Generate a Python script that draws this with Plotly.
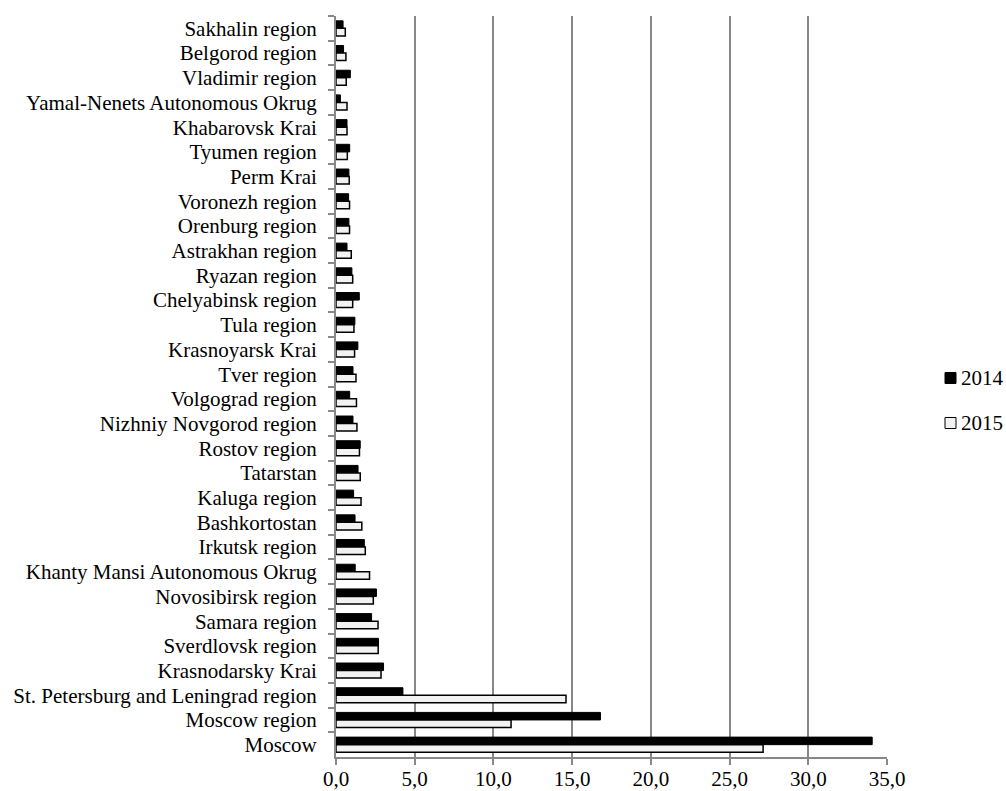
import plotly.graph_objects as go

# Regions, listed from top of the chart to bottom
regions = [
    "Sakhalin region", "Belgorod region", "Vladimir region",
    "Yamal-Nenets Autonomous Okrug", "Khabarovsk Krai", "Tyumen region",
    "Perm Krai", "Voronezh region", "Orenburg region", "Astrakhan region",
    "Ryazan region", "Chelyabinsk region", "Tula region", "Krasnoyarsk Krai",
    "Tver region", "Volgograd region", "Nizhniy Novgorod region",
    "Rostov region", "Tatarstan", "Kaluga region", "Bashkortostan",
    "Irkutsk region", "Khanty Mansi Autonomous Okrug", "Novosibirsk region",
    "Samara region", "Sverdlovsk region", "Krasnodarsky Krai",
    "St. Petersburg and Leningrad region", "Moscow region", "Moscow",
]

values_2014 = [
    0.45, 0.48, 0.91, 0.28, 0.70, 0.87, 0.82, 0.80, 0.82, 0.70,
    1.01, 1.48, 1.20, 1.39, 1.08, 0.87, 1.08, 1.54, 1.40, 1.12,
    1.21, 1.80, 1.22, 2.57, 2.26, 2.70, 3.02, 4.25, 16.80, 34.06,
]

values_2015 = [
    0.59, 0.63, 0.65, 0.70, 0.70, 0.72, 0.84, 0.86, 0.86, 0.97,
    1.06, 1.06, 1.14, 1.18, 1.27, 1.30, 1.33, 1.49, 1.54, 1.59,
    1.64, 1.86, 2.13, 2.37, 2.67, 2.68, 2.86, 14.61, 11.12, 27.13,
]

x_ticks = [0, 5, 10, 15, 20, 25, 30, 35]
series_names = ["2014", "2015"]
series_fill = ["#000000", "#f2f2f2"]

FONT = "Liberation Serif"
GRID = "#888888"
W, H = 1006, 791
ML, MR, MT, MB = 336, 119, 16, 34

fig = go.Figure()
fig.add_trace(go.Bar(
    y=regions, x=values_2014, name=series_names[0], orientation="h",
    marker=dict(color=series_fill[0], line=dict(color="#000000", width=1)),
))
fig.add_trace(go.Bar(
    y=regions, x=values_2015, name=series_names[1], orientation="h",
    marker=dict(color=series_fill[1], line=dict(color="#000000", width=1.5)),
))

fig.update_layout(
    width=W, height=H,
    margin=dict(l=ML, r=MR, t=MT, b=MB, autoexpand=False),
    paper_bgcolor="white", plot_bgcolor="white",
    barmode="group", bargap=0.39, bargroupgap=0,
    separators=", ",
    font=dict(family=FONT, size=21, color="#000000"),
    showlegend=False,
)

# Legend drawn as swatches plus labels at the right of the plot
pw, ph = W - ML - MR, H - MT - MB
def px_x(v):
    return (v - ML) / pw
def px_y(v):
    return (H - MB - v) / ph

legend_rows = [378, 423]
for name, fill, cy in zip(series_names, series_fill, legend_rows):
    fig.add_shape(
        type="rect", xref="paper", yref="paper",
        x0=px_x(945), x1=px_x(956), y0=px_y(cy + 5.5), y1=px_y(cy - 5.5),
        fillcolor=fill, line=dict(color="#000000", width=1),
    )
    fig.add_annotation(
        text=name, xref="paper", yref="paper",
        x=px_x(959), y=px_y(cy), xanchor="left", yanchor="middle",
        showarrow=False, font=dict(family=FONT, size=21, color="#000000"),
    )

fig.update_xaxes(
    range=[0, 35], tickvals=x_ticks, tickformat=".1f",
    showgrid=True, gridcolor=GRID, gridwidth=2,
    showline=True, linecolor=GRID, linewidth=2,
    ticks="outside", ticklen=6, tickcolor=GRID, tickwidth=2,
    ticklabelstandoff=-4,
    zeroline=False, fixedrange=True, automargin=False,
)
fig.update_yaxes(
    type="category", autorange="reversed",
    categoryorder="array", categoryarray=regions,
    tickmode="linear", dtick=1,
    showgrid=False, showline=True, linecolor=GRID, linewidth=2,
    ticks="outside", ticklen=6, tickcolor=GRID, tickwidth=2,
    tickson="boundaries", ticklabelstandoff=13,
    zeroline=False, fixedrange=True, automargin=False,
)

fig.write_html("out.html")
